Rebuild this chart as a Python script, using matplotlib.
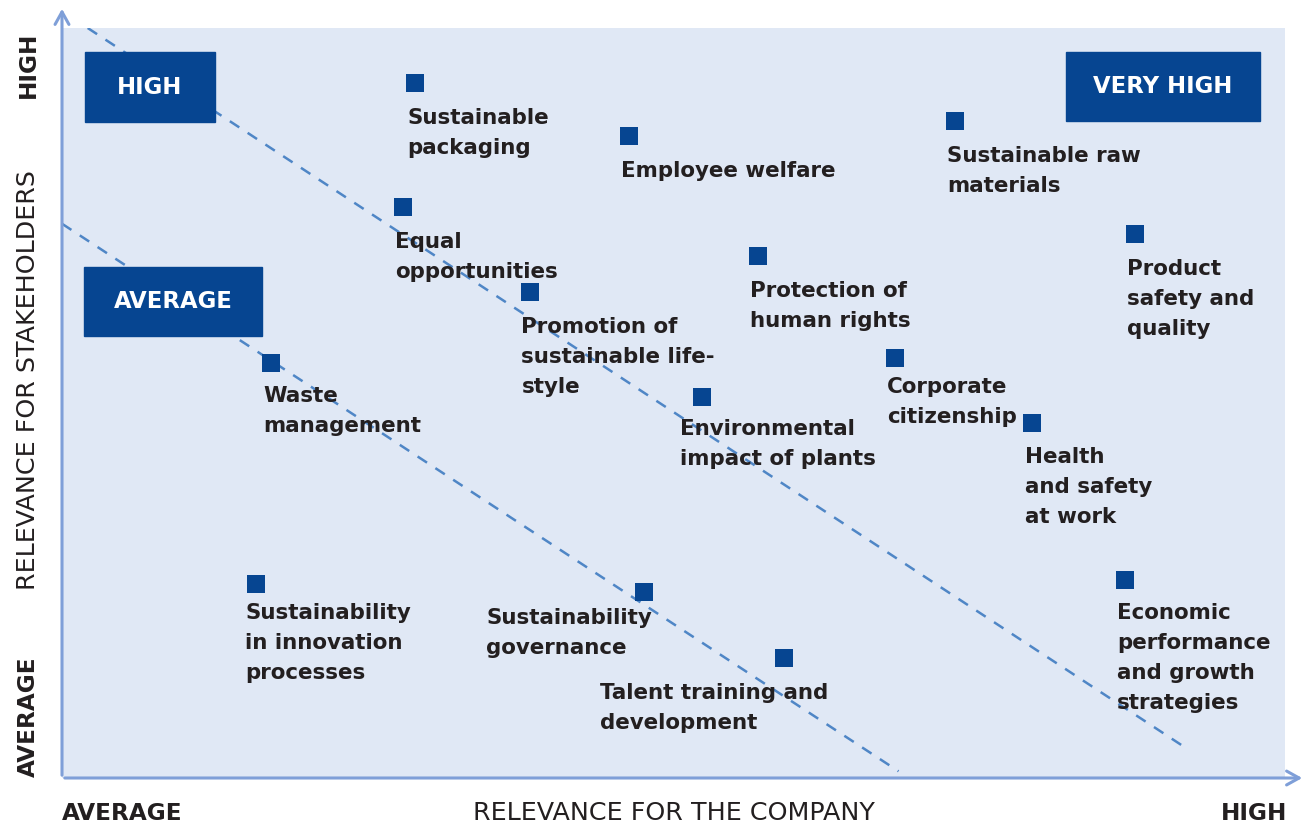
import matplotlib.pyplot as plt

# materiality matrix: relevance for company (x) vs stakeholders (y), 0-100
temas = [
    "Sustainable\npackaging",
    "Employee welfare",
    "Sustainable raw\nmaterials",
    "Equal\nopportunities",
    "Product\nsafety and\nquality",
    "Protection of\nhuman rights",
    "Promotion of\nsustainable life-\nstyle",
    "Waste\nmanagement",
    "Corporate\ncitizenship",
    "Environmental\nimpact of plants",
    "Health\nand safety\nat work",
    "Economic\nperformance\nand growth\nstrategies",
    "Sustainability\nin innovation\nprocesses",
    "Sustainability\ngovernance",
    "Talent training and\ndevelopment",
]
empresa = [28.9, 46.4, 73.0, 27.9, 87.7, 56.9, 38.3, 17.1, 68.1, 52.3, 79.3, 86.9, 15.9, 47.6, 59.0]
stakeholders = [92.7, 85.6, 87.6, 76.1, 72.5, 69.6, 64.8, 55.3, 56.0, 50.8, 47.3, 26.4, 25.9, 24.8, 16.0]

# label offsets from marker centre, pixels (left edge, first line centre)
off_x = [-8, -8, -8, -8, -8, -8, -9, -8, -8, -22, -7, -8, -11, -158, -184]
off_y = [35, 35, 35, 35, 35, 35, 35, 33, 29, 32, 34, 33, 29, 26, 35]

# dashed threshold lines
linha_alta_x = [2.1, 91.9]
linha_alta_y = [100.0, 4.0]
linha_media_x = [0.0, 68.4]
linha_media_y = [73.9, 0.9]

azul = "#064591"
fundo = "#e0e8f5"
eixo = "#7f9fd8"
tracejado = "#4f86c6"
texto = "#231f20"

W, H = 1310, 825
fig = plt.figure(figsize=(W / 100, H / 100), dpi=100)
ax = fig.add_axes([62 / W, (H - 778) / H, 1223 / W, 750 / H])
ax.set_facecolor(fundo)
ax.set_xlim(0, 100)
ax.set_ylim(0, 100)
ax.set_xticks([])
ax.set_yticks([])
for s in ax.spines.values():
    s.set_visible(False)

ax.plot(linha_alta_x, linha_alta_y, color=tracejado, lw=1.8, dashes=(4.5, 4))
ax.plot(linha_media_x, linha_media_y, color=tracejado, lw=1.8, dashes=(4.5, 4))

ax.plot(empresa, stakeholders, "s", color=azul, ms=13, mew=0, zorder=3)
for t, x, y, dx, dy in zip(temas, empresa, stakeholders, off_x, off_y):
    ax.annotate(t, (x, y), xytext=(dx, -(dy - 10)), textcoords="offset pixels",
                ha="left", va="top", fontsize=15.4, fontweight="bold",
                color=texto, linespacing=1.62)

# axis arrows
ax.annotate("", xy=(0, 1 + 22 / 750), xytext=(0, 0), xycoords="axes fraction",
            arrowprops=dict(arrowstyle="->,head_length=0.9,head_width=0.5", color=eixo, lw=2.2),
            annotation_clip=False)
ax.annotate("", xy=(1 + 20 / 1223, 0), xytext=(0, 0), xycoords="axes fraction",
            arrowprops=dict(arrowstyle="->,head_length=0.9,head_width=0.5", color=eixo, lw=2.2),
            annotation_clip=False)

# quadrant boxes (pixel positions)
def caixa(x0, y0, x1, y1, rotulo):
    fig.patches.append(plt.Rectangle((x0 / W, 1 - y1 / H), (x1 - x0) / W, (y1 - y0) / H,
                                     transform=fig.transFigure, color=azul, zorder=5))
    fig.text((x0 + x1) / 2 / W, 1 - (y0 + y1) / 2 / H, rotulo, color="white",
             fontsize=16.4, fontweight="bold", ha="center", va="center", zorder=6)

caixa(85, 52, 215, 122, "HIGH")
caixa(84, 267, 262, 336, "AVERAGE")
caixa(1066, 52, 1260, 121, "VERY HIGH")

# outer labels
fig.text(28 / W, 1 - 65 / H, "HIGH", rotation=90, ha="center", va="center",
         fontsize=16.7, fontweight="bold", color=texto)
fig.text(28 / W, 1 - 717 / H, "AVERAGE", rotation=90, ha="center", va="center",
         fontsize=16.7, fontweight="bold", color=texto)
fig.text(28 / W, 1 - 380 / H, "RELEVANCE FOR STAKEHOLDERS", rotation=90, ha="center",
         va="center", fontsize=18.3, color=texto)
fig.text(62 / W, 1 - 813 / H, "AVERAGE", ha="left", va="center",
         fontsize=16.7, fontweight="bold", color=texto)
fig.text(674 / W, 1 - 813 / H, "RELEVANCE FOR THE COMPANY", ha="center", va="center",
         fontsize=18.3, color=texto)
fig.text(1287 / W, 1 - 813 / H, "HIGH", ha="right", va="center",
         fontsize=16.7, fontweight="bold", color=texto)

fig.savefig("out.png", dpi=100)
